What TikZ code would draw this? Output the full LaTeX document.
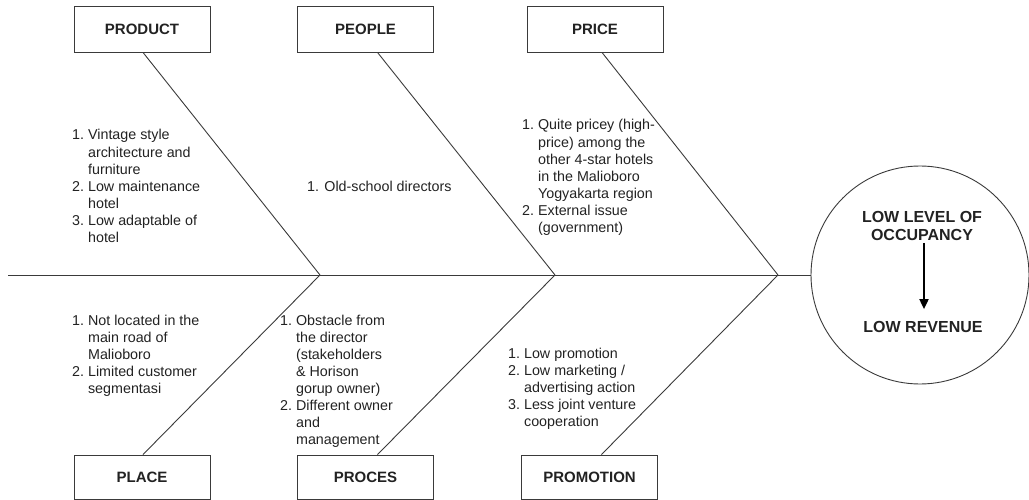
\documentclass[tikz,border=0pt]{standalone}
\usepackage{fontspec}
\setmainfont{Liberation Sans}
\usetikzlibrary{arrows.meta}
\definecolor{linec}{HTML}{3A3A3A}
\definecolor{txt}{HTML}{222222}
\tikzset{
  catbox/.style={draw=linec, line width=0.9pt, fill=white, minimum width=136pt, minimum height=46pt, inner sep=0pt, font=\fontsize{15}{18}\selectfont\bfseries, text=txt},
  bone/.style={draw=linec, line width=0.9pt},
  items/.style={inner sep=0pt, anchor=base west, font=\fontsize{14.3}{17.1}\selectfont, text=txt},
  efftext/.style={inner sep=0pt, align=center, font=\fontsize{16}{18}\selectfont\bfseries, text=txt},
}
\begin{document}
\begin{tikzpicture}[x=1pt,y=-1pt]
\useasboundingbox (0,0) rectangle (1029,500);
% boxes
\node[catbox] (product) at (142,29) {PRODUCT};
\node[catbox] (people) at (365.5,29) {PEOPLE};
\node[catbox] (price) at (595,29) {PRICE};
\node[catbox, minimum height=44pt] (place) at (142,477) {PLACE};
\node[catbox, minimum height=44pt] (proces) at (365.5,477) {PROCES};
\node[catbox, minimum height=44pt] (promotion) at (589.5,477) {PROMOTION};
% effect
\node[circle, draw=linec, line width=0.9pt, minimum size=218pt, inner sep=0pt] (effect) at (920,275) {};
\node[efftext] (lvl) at (922,226) {LOW LEVEL OF\\OCCUPANCY};
\node[efftext] (rev) at (923,327) {LOW REVENUE};
\draw[line width=1.8pt, -{Triangle[width=9pt,length=10pt]}, shorten <=2pt, shorten >=12pt] (lvl.south -| 924,0) -- (rev.north -| 924,0);
% item lists
\node[items] (prodlist) at (72,140) {\begin{tabular}[t]{@{}l@{\ }l@{}}1. & Vintage style\\ & architecture and\\ & furniture\\ 2. & Low maintenance\\ & hotel\\ 3. & Low adaptable of\\ & hotel\end{tabular}};
\node[items] (peoplist) at (307,192) {1. Old-school directors};
\node[items] (pricelist) at (522,130) {\begin{tabular}[t]{@{}l@{\ }l@{}}1. & Quite pricey (high-\\ & price) among the\\ & other 4-star hotels\\ & in the Malioboro\\ & Yogyakarta region\\ 2. & External issue\\ & (government)\end{tabular}};
\node[items] (placelist) at (72,325) {\begin{tabular}[t]{@{}l@{\ }l@{}}1. & Not located in the\\ & main road of\\ & Malioboro\\ 2. & Limited customer\\ & segmentasi\end{tabular}};
\node[items] (proclist) at (280,325) {\begin{tabular}[t]{@{}l@{\ }l@{}}1. & Obstacle from\\ & the director\\ & (stakeholders\\ & \& Horison\\ & gorup owner)\\ 2. & Different owner\\ & and\\ & management\end{tabular}};
\node[items] (promolist) at (508,358) {\begin{tabular}[t]{@{}l@{\ }l@{}}1. & Low promotion\\ 2. & Low marketing /\\ & advertising action\\ 3. & Less joint venture\\ & cooperation\end{tabular}};
% spine
\coordinate (tail) at (8,275);
\coordinate (j1) at (320,275);
\coordinate (j2) at (555,275);
\coordinate (j3) at (778,275);
\draw[bone] (tail) -- (effect.west);
% branches
\draw[bone] ([xshift=1pt]product.south) -- (j1);
\draw[bone] ([xshift=12pt]people.south) -- (j2);
\draw[bone] ([xshift=7pt]price.south) -- (j3);
\draw[bone] ([xshift=1pt]place.north) -- (j1);
\draw[bone] ([xshift=12pt]proces.north) -- (j2);
\draw[bone] ([xshift=12pt]promotion.north) -- (j3);
\end{tikzpicture}
\end{document}
